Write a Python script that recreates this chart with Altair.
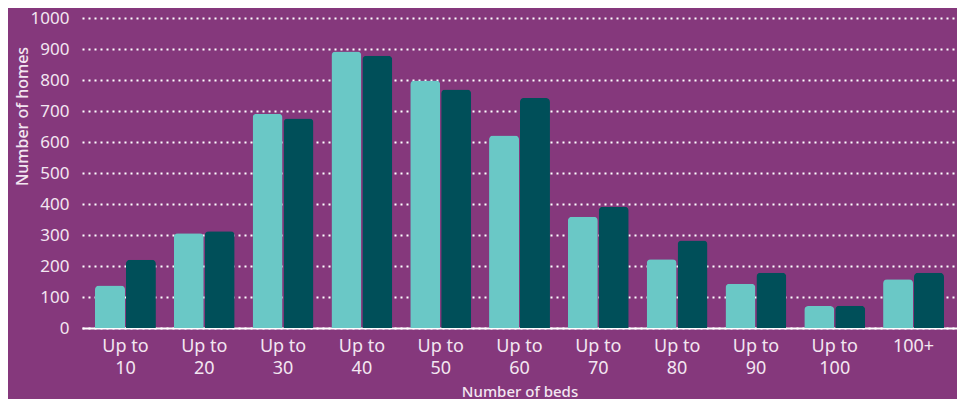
import altair as alt
import pandas as pd

categories = ["Up to 10", "Up to 20", "Up to 30", "Up to 40", "Up to 50", "Up to 60",
              "Up to 70", "Up to 80", "Up to 90", "Up to 100", "100+"]
series_a = [137, 306, 691, 892, 798, 621, 359, 222, 143, 71, 157]
series_b = [220, 312, 676, 878, 769, 742, 391, 282, 178, 72, 178]
series_names = ["A", "B"]
y_ticks = [0, 100, 200, 300, 400, 500, 600, 700, 800, 900, 1000]

rows = []
for c, a, b in zip(categories, series_a, series_b):
    rows.append({"beds": c, "series": series_names[0], "homes": a})
    rows.append({"beds": c, "series": series_names[1], "homes": b})
df = pd.DataFrame(rows)

txt = "#f3e6f1"
font = "Noto Sans"

chart = alt.Chart(df).mark_bar(cornerRadiusTopLeft=4, cornerRadiusTopRight=4).encode(
    x=alt.X("beds:N", sort=categories, title="Number of beds",
            scale=alt.Scale(paddingInner=0.227, paddingOuter=0.165),
            axis=alt.Axis(labelAngle=0, ticks=False, domain=True, domainColor="white",
                          domainWidth=2, labelColor=txt, labelFontSize=18, labelFont=font,
                          labelPadding=9, labelLineHeight=22,
                          labelExpr="indexof(datum.label,'Up to')==0 ? ['Up to', substring(datum.label, 6)] : datum.label",
                          titleColor=txt, titleFont=font, titleFontSize=15, titleFontWeight=500,
                          titlePadding=7)),
    xOffset=alt.XOffset("series:N", sort=series_names, scale=alt.Scale(paddingInner=0.03)),
    y=alt.Y("homes:Q", title="Number of homes",
            scale=alt.Scale(domain=[0, 1000], nice=False),
            axis=alt.Axis(values=y_ticks, format="d", ticks=False, domain=False,
                          grid=True, gridColor="white", gridDash=[2, 4], gridWidth=2,
                          labelColor=txt, labelFontSize=17, labelFont=font, labelPadding=13,
                          titleColor=txt, titleFont=font, titleFontSize=16, titleFontWeight=500,
                          titleX=-52, titleY=98)),
    color=alt.Color("series:N", sort=series_names,
                    scale=alt.Scale(domain=series_names, range=["#6ac8c6", "#004f59"]),
                    legend=None),
).properties(
    width=875, height=310,
    background="#85387c",
    autosize=alt.AutoSizeParams(type="none"),
    padding={"left": 74, "top": 10, "right": 0, "bottom": 71},
).configure_view(stroke=None)

chart.save("out.html", embed_options={"renderer": "svg", "actions": False})
